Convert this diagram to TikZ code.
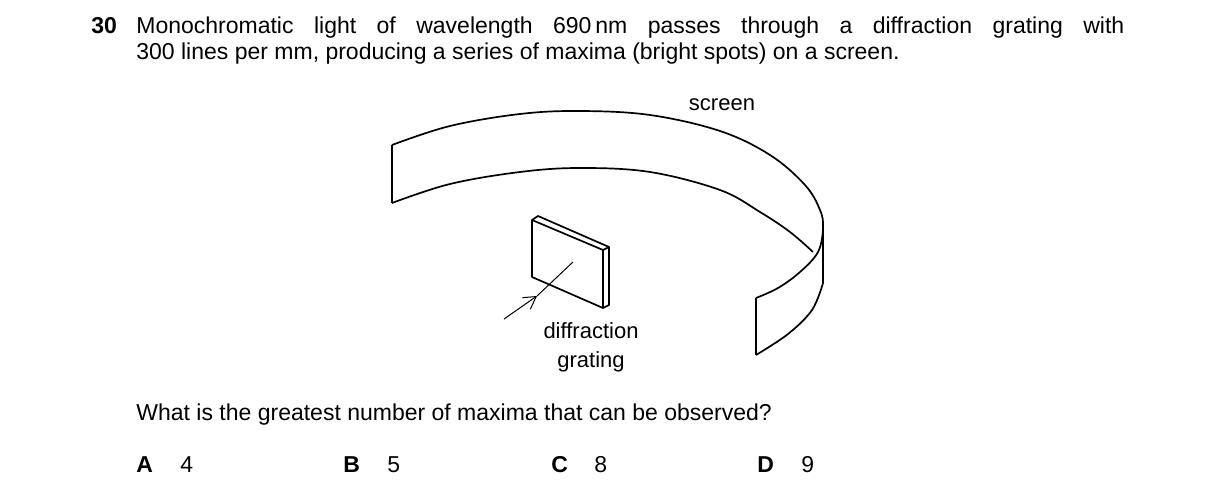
\documentclass[tikz,border=0pt]{standalone}
\usepackage{fontspec}
\setmainfont{Liberation Sans}
\usetikzlibrary{arrows.meta}
\begin{document}
\begin{tikzpicture}[x=0.5pt,y=-0.5pt,line join=round,
  txt/.style={inner sep=0pt,font=\fontsize{11.5}{13.5}\selectfont},
  lbl/.style={inner sep=0pt,font=\fontsize{11}{13}\selectfont},
  edge/.style={line width=0.85pt}]
\useasboundingbox (0,0) rectangle (1216,497);
% question
\node[txt,anchor=base west] (num) at (91,34) {\bfseries 30};
\node[txt,anchor=base west] (q1) at (136,34)
 {\makebox[494pt][s]{Monochromatic light of wavelength 690\,nm passes through a diffraction grating with}};
\node[txt,anchor=base west] (q2) at (136,60)
 {300 lines per mm, producing a series of maxima (bright spots) on a screen.};
% screen
\draw[edge] plot[smooth,tension=0.6] coordinates {(392,145) (450,126) (520,114) (580,111) (650,115) (720,131) (770,155) (805,185) (820,210) (823,228) (818,252) (800,272) (778,288) (756,298)};
\draw[edge] plot[smooth,tension=0.6] coordinates {(392,203) (450,184) (520,172) (580,168) (650,172) (720,190) (760,212) (790,232) (813,252)};
\draw[edge] (392,145) -- (392,203);
\draw[edge] (823,228) -- (823,283);
\draw[edge] plot[smooth,tension=0.6] coordinates {(823,283) (812,310) (788,334) (756,355)};
\draw[edge] (756,298) -- (756,355);
% grating
\draw[edge] (532,220) -- (532,277) -- (603,308) -- (603,250) -- cycle;
\draw[edge] (532,220) -- (538,216) -- (609,247) -- (609,305) -- (603,308);
\draw[edge] (603,250) -- (609,247);
% ray
\coordinate (r0) at (504,319);
\coordinate (r1) at (537,296);
\coordinate (r2) at (573,262);
\draw[line width=0.5pt,-{Straight Barb[length=6pt,width=7pt]}] (r0) -- (r1);
\draw[line width=0.5pt] (r1) -- (r2);
% labels
\node[lbl,anchor=base] (scr) at (722,111) {screen};
\node[lbl,anchor=base] (dg1) at (591,339) {diffraction};
\node[lbl,anchor=base] (dg2) at (591,368) {grating};
% question 2
\node[txt,anchor=base west] (w) at (136,421) {What is the greatest number of maxima that can be observed?};
\node[txt,anchor=base west] (a) at (136,472) {\bfseries A};
\node[txt,anchor=base west] (a1) at (180,472) {4};
\node[txt,anchor=base west] (b) at (343,472) {\bfseries B};
\node[txt,anchor=base west] (b1) at (387,472) {5};
\node[txt,anchor=base west] (c) at (551,472) {\bfseries C};
\node[txt,anchor=base west] (c1) at (594,472) {8};
\node[txt,anchor=base west] (d) at (757,472) {\bfseries D};
\node[txt,anchor=base west] (d1) at (801,472) {9};
\end{tikzpicture}
\end{document}
